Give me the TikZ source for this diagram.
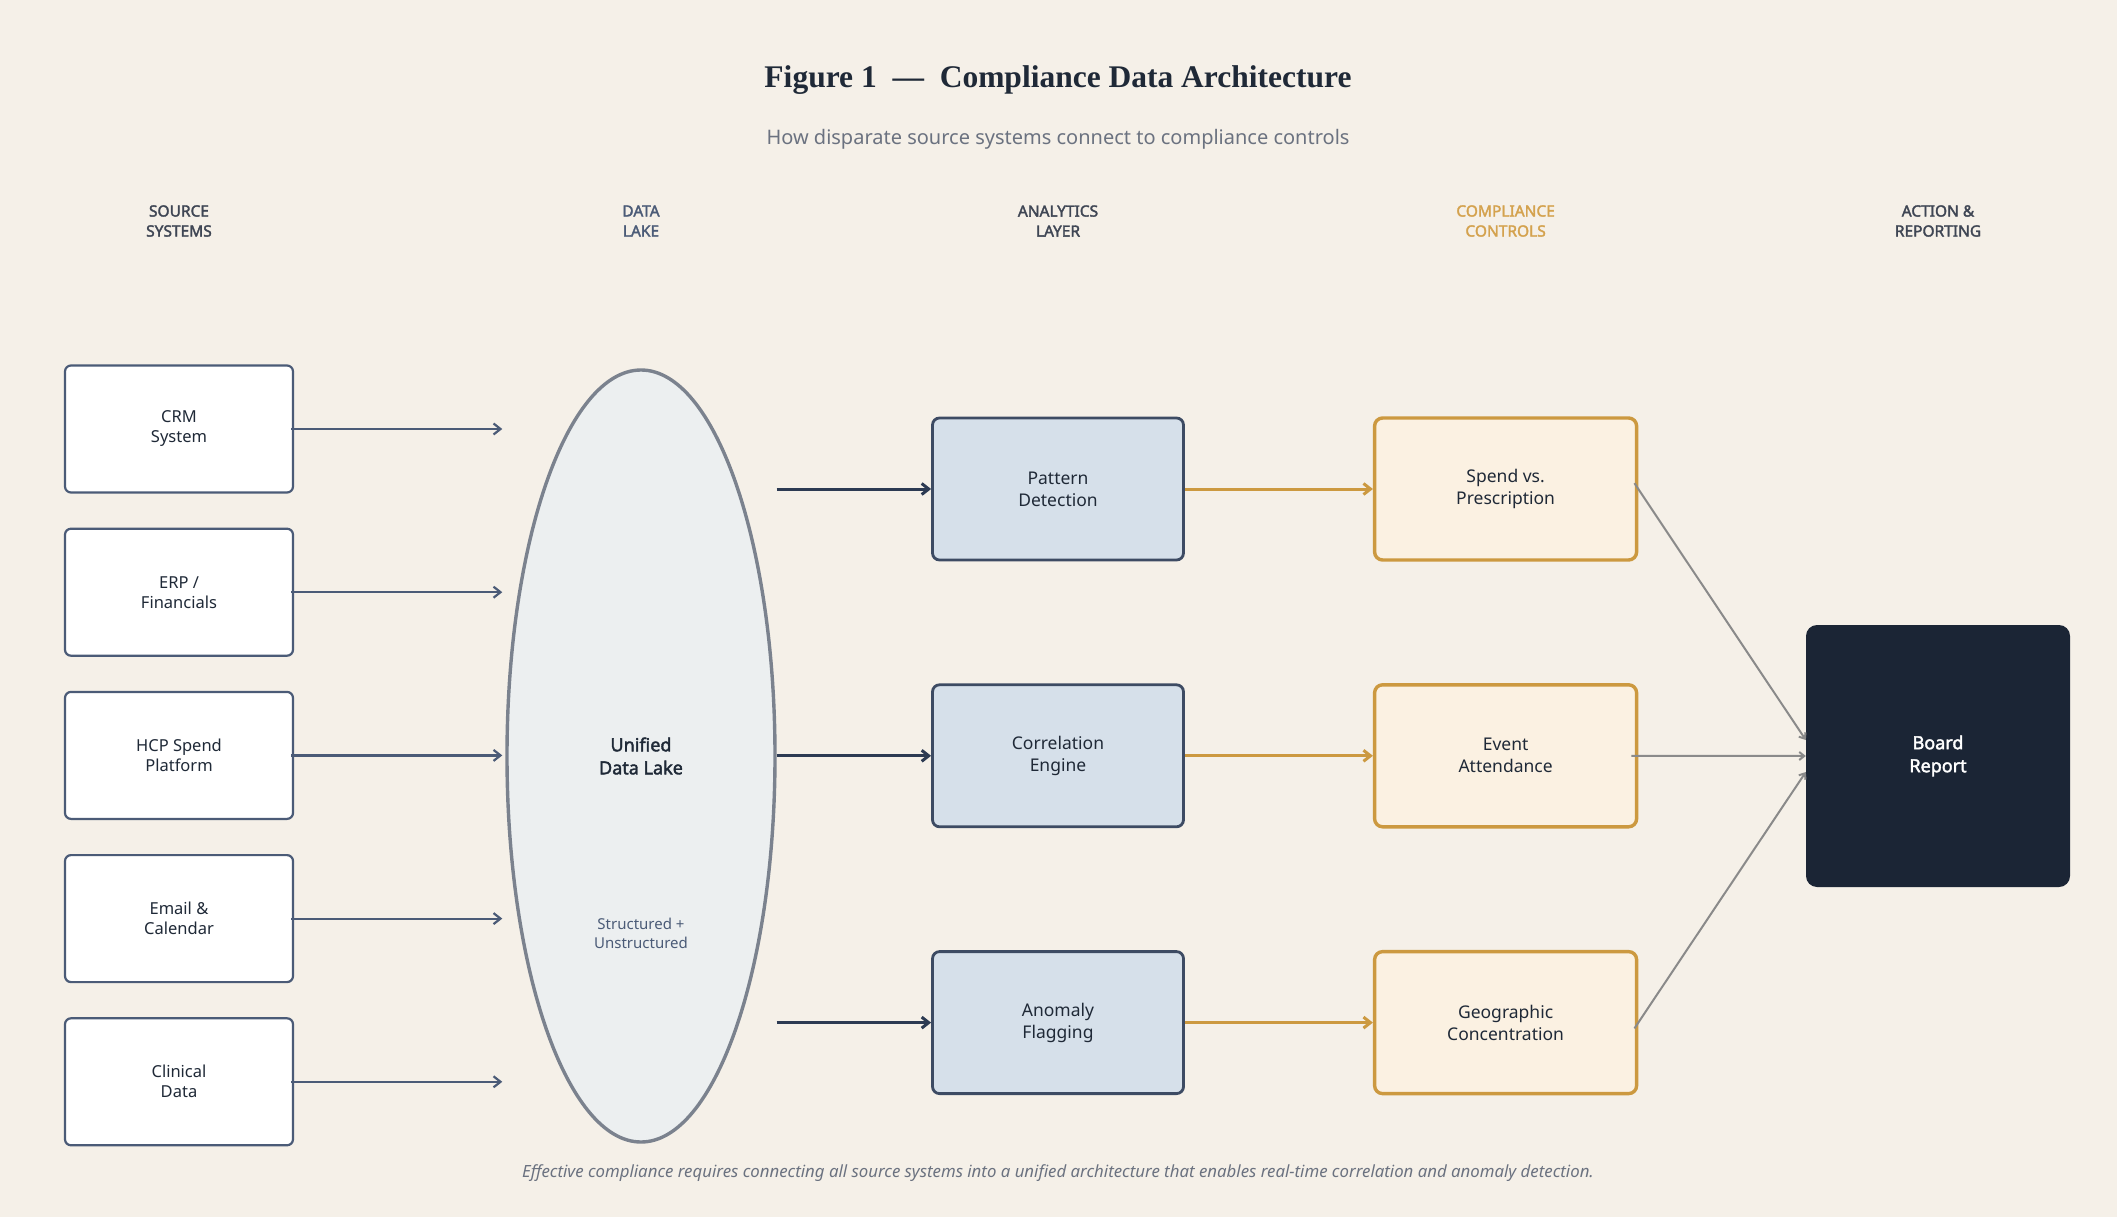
\documentclass[tikz,border=0pt]{standalone}
\usepackage{fontspec}
\setmainfont{Noto Sans}[AutoFakeBold=2.2]
\newfontfamily\titlefont{Liberation Serif}
\usetikzlibrary{arrows.meta,positioning,shapes.geometric,calc}
\definecolor{paperBg}{HTML}{F5F0E8}
\definecolor{inkDark}{HTML}{1F2937}
\definecolor{slateBlue}{HTML}{4B5B77}
\definecolor{lakeFill}{HTML}{ECEFF0}
\definecolor{lakeBorder}{HTML}{7B828E}
\definecolor{steelFill}{HTML}{D6E0EA}
\definecolor{steelBorder}{HTML}{3D4B63}
\definecolor{navyArrow}{HTML}{2C3A52}
\definecolor{goldLine}{HTML}{CC9940}
\definecolor{goldFill}{HTML}{FBF1E2}
\definecolor{goldHead}{HTML}{D4A24E}
\definecolor{boardNavy}{HTML}{1B2535}
\definecolor{linkGray}{HTML}{8A8A8A}
\definecolor{headGray}{HTML}{3F4654}
\definecolor{subGray}{HTML}{6B7280}
\tikzset{
  source node/.style={draw=slateBlue,fill=white,rounded corners=6pt,line width=2.2pt,align=center,text=inkDark,font=\fontsize{16.5}{20}\selectfont,minimum width=228pt,minimum height=127pt,inner sep=0pt},
  analytics node/.style={draw=steelBorder,fill=steelFill,rounded corners=7pt,line width=2.8pt,align=center,text=inkDark,font=\fontsize{17.5}{22}\selectfont,minimum width=251pt,minimum height=142pt,inner sep=0pt},
  control node/.style={draw=goldLine,fill=goldFill,rounded corners=8pt,line width=3.4pt,align=center,text=inkDark,font=\fontsize{17.5}{22}\selectfont,minimum width=262pt,minimum height=142pt,inner sep=0pt},
  board node/.style={fill=boardNavy,rounded corners=11pt,align=center,text=white,font=\fontsize{18}{23}\selectfont\bfseries,minimum width=264pt,minimum height=262pt,inner sep=0pt},
  lake node/.style={ellipse,draw=lakeBorder,fill=lakeFill,line width=3.4pt,minimum width=268pt,minimum height=772pt,inner sep=0pt},
  column head/.style={align=center,text=headGray,font=\fontsize{15.5}{20}\selectfont\bfseries},
  feed arrow/.style={-{Straight Barb[length=7pt,width=11pt]},line width=2.2pt,draw=slateBlue,shorten >=3pt,shorten <=-3pt},
  lake arrow/.style={-{Straight Barb[length=7pt,width=11pt]},line width=3pt,draw=navyArrow},
  control arrow/.style={-{Straight Barb[length=7pt,width=11pt]},line width=3pt,draw=goldLine},
  report line/.style={-{Straight Barb[length=5pt,width=8pt]},line width=2pt,draw=linkGray,shorten <=-7pt}
}
\begin{document}
\begin{tikzpicture}[x=1pt,y=-1pt,node distance=34pt]
  \fill[paperBg] (0,0) rectangle (2117,1217);
  \useasboundingbox (0,0) rectangle (2117,1217);
  % title block
  \node[text=inkDark,font=\titlefont\fontsize{31.5}{36}\selectfont\bfseries] (title) at (1058,80) {Figure 1\enspace—\enspace Compliance Data Architecture};
  \node[text=subGray,font=\fontsize{20}{24}\selectfont] (subtitle) at (1058,139) {How disparate source systems connect to compliance controls};
  % source systems
  \node[source node] (crm) at (179,429) {CRM\\System};
  \node[source node,below=of crm] (erp) {ERP /\\Financials};
  \node[source node,below=of erp] (hcp) {HCP Spend\\Platform};
  \node[source node,below=of hcp] (email) {Email \&\\Calendar};
  \node[source node,below=of email] (clinical) {Clinical\\Data};
  % data lake
  \node[lake node] (lake) at (641,756) {};
  \node[align=center,text=inkDark,font=\fontsize{18}{23}\selectfont\bfseries] (lakename) at (lake.center) {Unified\\Data Lake};
  \node[align=center,text=slateBlue,font=\fontsize{15}{19}\selectfont] (lakesub) at (641,933) {Structured +\\Unstructured};
  % analytics layer
  \node[analytics node] (pattern) at (1058,489) {Pattern\\Detection};
  \node[analytics node,below=122pt of pattern] (correlation) {Correlation\\Engine};
  \node[analytics node,below=122pt of correlation] (anomaly) {Anomaly\\Flagging};
  % compliance controls
  \node[control node,right=188pt of pattern] (spend) {Spend vs.\\Prescription};
  \node[control node,right=188pt of correlation] (event) {Event\\Attendance};
  \node[control node,right=188pt of anomaly] (geo) {Geographic\\Concentration};
  % action and reporting
  \node[board node] (board) at (1938,756) {Board\\Report};
  % column headers
  \coordinate (headline) at (0,221);
  \node[column head] (headsrc) at (crm |- headline) {SOURCE\\SYSTEMS};
  \node[column head,text=slateBlue] (headlake) at (lake |- headline) {DATA\\LAKE};
  \node[column head] (headana) at (pattern |- headline) {ANALYTICS\\LAYER};
  \node[column head,text=goldHead] (headctl) at (spend |- headline) {COMPLIANCE\\CONTROLS};
  \node[column head] (headact) at (board |- headline) {ACTION \&\\REPORTING};
  % connectors
  \draw[feed arrow] (crm.east) -- (crm.east -| lake.west);
  \draw[feed arrow] (erp.east) -- (erp.east -| lake.west);
  \draw[feed arrow] (hcp.east) -- (hcp.east -| lake.west);
  \draw[feed arrow] (email.east) -- (email.east -| lake.west);
  \draw[feed arrow] (clinical.east) -- (clinical.east -| lake.west);
  \draw[lake arrow] (lake.east |- pattern) -- (pattern.west);
  \draw[lake arrow] (lake.east |- correlation) -- (correlation.west);
  \draw[lake arrow] (lake.east |- anomaly) -- (anomaly.west);
  \draw[control arrow] (pattern.east) -- (spend.west);
  \draw[control arrow] (correlation.east) -- (event.west);
  \draw[control arrow] (anomaly.east) -- (geo.west);
  \draw[report line] (spend.east) -- ($(board.west)+(0,-16)$);
  \draw[report line] (event.east) -- (board.west);
  \draw[report line] (geo.east) -- ($(board.west)+(0,16)$);
  % footer note
  \node[text=subGray,font=\fontsize{16.8}{20}\selectfont\itshape] (footer) at (1058,1173) {Effective compliance requires connecting all source systems into a unified architecture that enables real-time correlation and anomaly detection.};
\end{tikzpicture}
\end{document}
